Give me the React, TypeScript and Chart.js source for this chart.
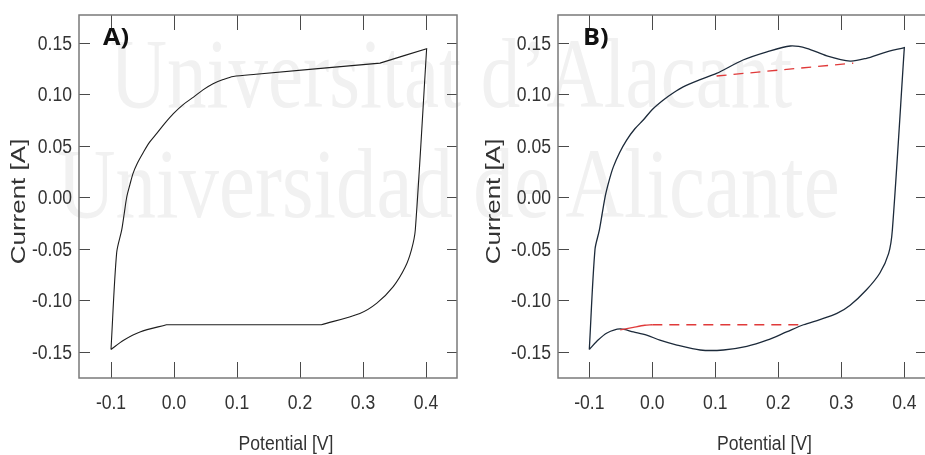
import React, { useEffect, useRef } from "react";
import { Chart, registerables } from "chart.js";

Chart.register(...registerables);

// ---------- data ----------
const xTicks = [-0.1, 0.0, 0.1, 0.2, 0.3, 0.4];
const yTicks = [-0.15, -0.1, -0.05, 0.0, 0.05, 0.1, 0.15];

// Panel A: cyclic voltammogram (corner points repeated to keep the corner sharp)
const aPotential = [
  -0.1, -0.1, -0.091, -0.083, -0.079, -0.075, -0.07, -0.065, -0.058, -0.049, -0.039, -0.027,
  -0.014, -0.001, 0.015, 0.031, 0.046, 0.062, 0.078, 0.094, 0.13,
  0.327, 0.327, 0.401, 0.401, 0.383, 0.377, 0.367, 0.348, 0.322, 0.295, 0.234, 0.234,
  -0.012, -0.012, -0.054, -0.08, -0.1,
];
const aCurrent = [
  -0.148, -0.148, -0.054, -0.032, -0.016, 0.0, 0.012, 0.023, 0.033, 0.043, 0.053, 0.062,
  0.072, 0.081, 0.09, 0.097, 0.104, 0.11, 0.114, 0.117, 0.1192,
  0.13, 0.13, 0.144, 0.144, -0.032, -0.051, -0.068, -0.087, -0.103, -0.113, -0.124, -0.124,
  -0.124, -0.124, -0.131, -0.139, -0.148,
];

// Panel B: voltammogram with redox peaks
const bPotential = [
  -0.1, -0.1, -0.091, -0.084, -0.075, -0.069, -0.062, -0.052, -0.041, -0.028, -0.014, 0.0, 0.017,
  0.033, 0.049, 0.076, 0.102, 0.144, 0.182, 0.219, 0.245, 0.277, 0.314, 0.34, 0.367, 0.4, 0.4,
  0.381, 0.375, 0.361, 0.34, 0.314, 0.293, 0.266, 0.24, 0.213, 0.182, 0.15, 0.113, 0.076, 0.039,
  0.012, -0.009, -0.03, -0.051, -0.072, -0.088, -0.1,
];
const bCurrent = [
  -0.148, -0.148, -0.051, -0.032, 0.0, 0.015, 0.029, 0.043, 0.055, 0.066, 0.075, 0.085, 0.094,
  0.101, 0.107, 0.114, 0.12, 0.133, 0.141, 0.1466, 0.1444, 0.137, 0.132, 0.1347, 0.14, 0.145, 0.145,
  -0.032, -0.055, -0.074, -0.09, -0.105, -0.113, -0.119, -0.124, -0.131, -0.139, -0.145, -0.1485, -0.1485, -0.1437,
  -0.139, -0.134, -0.131, -0.128, -0.132, -0.14, -0.148,
];

// Panel B: capacitive baselines (red)
const bLowSolidPotential = [-0.051, -0.03, -0.012, 0.0];
const bLowSolidCurrent = [-0.129, -0.1265, -0.1245, -0.124];
const bLowDashPotential = [0.0, 0.236];
const bLowDashCurrent = [-0.124, -0.124];
const bHighDashPotential = [0.102, 0.319];
const bHighDashCurrent = [0.1175, 0.13];

// ---------- helpers ----------
const pts = (xs: number[], ys: number[]) => xs.map((x, i) => ({ x, y: ys[i] }));
const FONT = '"Liberation Sans", Arial, sans-serif';
const H = 455;

type PanelCfg = {
  left: number;
  width: number;
  yWidth: number;
  padRight: number;
  xMin: number;
  xMax: number;
  label: string;
  labelX: number;
  yTitleX: number;
  xTitleX: number;
  datasets: any[];
};

function drawText(
  ctx: CanvasRenderingContext2D,
  text: string,
  x: number,
  y: number,
  font: string,
  scaleX: number,
  rotate: boolean,
  align: CanvasTextAlign,
  color: string
) {
  ctx.save();
  ctx.translate(x, y);
  if (rotate) ctx.rotate(-Math.PI / 2);
  ctx.scale(scaleX, 1);
  ctx.font = font;
  ctx.textAlign = align;
  ctx.textBaseline = "alphabetic";
  ctx.fillStyle = color;
  ctx.fillText(text, 0, 0);
  ctx.restore();
}

const fmt = (v: number, d: number) => (Math.abs(v) < 1e-9 ? 0 : v).toFixed(d);

const decorPlugin = (cfg: PanelCfg) => ({
  id: "decor",
  afterDraw(chart: any) {
    const { ctx, chartArea: a, scales } = chart;
    const xs = scales.x;
    const ys = scales.y;
    ctx.save();
    ctx.strokeStyle = "#4a4a4a";
    ctx.lineWidth = 1;
    ctx.beginPath();
    for (const t of xs.ticks) {
      const px = Math.round(xs.getPixelForValue(t.value)) + 0.5;
      ctx.moveTo(px, a.bottom);
      ctx.lineTo(px, a.bottom - 16);
      ctx.moveTo(px, a.top);
      ctx.lineTo(px, a.top + 15);
    }
    for (const t of ys.ticks) {
      const py = Math.round(ys.getPixelForValue(t.value)) + 0.5;
      ctx.moveTo(a.left, py);
      ctx.lineTo(a.left + 11, py);
      ctx.moveTo(a.right, py);
      ctx.lineTo(a.right - 10, py);
    }
    ctx.stroke();
    ctx.strokeStyle = "#7a7a7a";
    ctx.lineWidth = 1.5;
    ctx.strokeRect(a.left, a.top, a.right - a.left, a.bottom - a.top);
    ctx.restore();

    const tickFont = `19.5px ${FONT}`;
    for (const t of xs.ticks) {
      const px = xs.getPixelForValue(t.value);
      drawText(ctx, fmt(t.value, 1), px, a.bottom + 31, tickFont, 0.9, false, "center", "#333");
    }
    for (const t of ys.ticks) {
      const py = ys.getPixelForValue(t.value);
      drawText(ctx, fmt(t.value, 2), a.left - 7, py + 7, tickFont, 0.9, false, "right", "#333");
    }

    drawText(ctx, cfg.label, cfg.labelX, 45, `bold 23px "Open Sans", ${FONT}`, 1.1, false, "left", "#111");
    drawText(ctx, "Potential [V]", cfg.xTitleX, 450, `20px ${FONT}`, 0.88, false, "center", "#333");
    drawText(ctx, "Current [A]", cfg.yTitleX, 201.5, `20px ${FONT}`, 1.3, true, "center", "#333");
  },
});

function Panel({ cfg }: { cfg: PanelCfg }) {
  const ref = useRef<HTMLCanvasElement>(null);
  useEffect(() => {
    const chart = new Chart(ref.current!, {
      type: "scatter",
      data: { datasets: cfg.datasets },
      options: {
        animation: false,
        responsive: false,
        events: [],
        layout: { padding: { top: 15, right: cfg.padRight, left: 0, bottom: 0 } },
        plugins: { legend: { display: false }, tooltip: { enabled: false } },
        elements: { point: { radius: 0 } },
        scales: {
          x: {
            type: "linear",
            min: cfg.xMin,
            max: cfg.xMax,
            grid: { display: false, drawTicks: false },
            border: { display: false },
            afterBuildTicks: (s: any) => {
              s.ticks = xTicks.map((v) => ({ value: v }));
            },
            afterFit: (s: any) => {
              s.height = H - 378;
            },
            ticks: { display: false },
          },
          y: {
            type: "linear",
            min: -0.1757,
            max: 0.1767,
            grid: { display: false, drawTicks: false },
            border: { display: false },
            afterBuildTicks: (s: any) => {
              s.ticks = yTicks.map((v) => ({ value: v }));
            },
            afterFit: (s: any) => {
              s.width = cfg.yWidth;
            },
            ticks: { display: false },
          },
        },
      },
      plugins: [decorPlugin(cfg)],
    } as any);
    return () => chart.destroy();
  }, []);
  return (
    <canvas
      ref={ref}
      width={cfg.width}
      height={H}
      style={{ position: "absolute", left: cfg.left, top: 0, width: cfg.width, height: H }}
    />
  );
}

const lineBase = { showLine: true, pointRadius: 0, fill: false };

const panelA: PanelCfg = {
  left: 0,
  width: 470,
  yWidth: 79,
  padRight: 13,
  xMin: -0.1508,
  xMax: 0.4492,
  label: "A)",
  labelX: 103,
  yTitleX: 25,
  xTitleX: 286,
  datasets: [
    { ...lineBase, data: pts(aPotential, aCurrent), borderColor: "#1e1e1e", borderWidth: 1.1, tension: 0.3 },
  ],
};

const panelB: PanelCfg = {
  left: 470,
  width: 480,
  yWidth: 88,
  padRight: 24,
  xMin: -0.1497,
  xMax: 0.4344,
  label: "B)",
  labelX: 113,
  yTitleX: 29.5,
  xTitleX: 294.5,
  datasets: [
    { ...lineBase, order: 1, data: pts(bLowSolidPotential, bLowSolidCurrent), borderColor: "#e03a3a", borderWidth: 1.3, tension: 0.3 },
    { ...lineBase, order: 1, data: pts(bLowDashPotential, bLowDashCurrent), borderColor: "#e03a3a", borderWidth: 1.3, borderDash: [10, 7] },
    { ...lineBase, order: 1, data: pts(bHighDashPotential, bHighDashCurrent), borderColor: "#e03a3a", borderWidth: 1.3, borderDash: [10, 7] },
    { ...lineBase, order: 2, data: pts(bPotential, bCurrent), borderColor: "#1c2a3a", borderWidth: 1.3, tension: 0.3 },
  ],
};

const wmStyle: React.CSSProperties = {
  position: "absolute",
  fontFamily: '"Liberation Serif", "Times New Roman", serif',
  fontSize: 100,
  lineHeight: 1,
  color: "#f1f1f1",
  whiteSpace: "nowrap",
  transformOrigin: "left top",
  margin: 0,
};

export default function App() {
  useEffect(() => {
    document.body.style.margin = "0";
  }, []);
  return (
    <div style={{ position: "relative", width: 925, height: H, overflow: "hidden", background: "#fff" }}>
      <div style={{ ...wmStyle, left: 110, top: 24, transform: "scaleX(0.79)" }}>Universitat d’Alacant</div>
      <div style={{ ...wmStyle, left: 57, top: 134, transform: "scaleX(0.81)" }}>Universidad de Alicante</div>
      <Panel cfg={panelA} />
      <Panel cfg={panelB} />
    </div>
  );
}
